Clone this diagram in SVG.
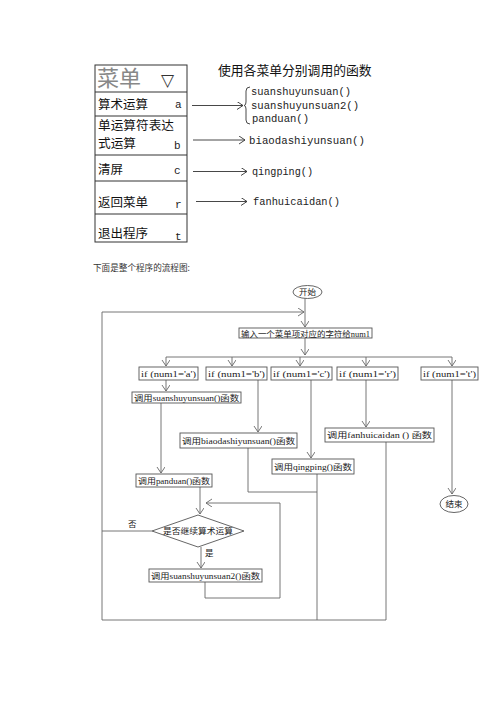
<svg xmlns="http://www.w3.org/2000/svg" width="500" height="707" viewBox="0 0 500 707">
<style>
.bg{fill:#fff}
.menu{fill:none;stroke:#333;stroke-width:1}
.sep{stroke:#333;stroke-width:1}
.mt{font-family:"Noto Sans CJK SC","Liberation Sans",sans-serif;font-size:12.5px;fill:#111}
.ml{font-family:"Liberation Mono",monospace;font-size:11px;fill:#222}
.fn{font-family:"Liberation Mono","Noto Sans CJK SC",monospace;font-size:10.8px;fill:#222}
.arr{fill:none;stroke:#333;stroke-width:0.9}
.box{fill:#fff;stroke:#555;stroke-width:0.9}
.ft{font-family:"Liberation Serif","Noto Sans CJK SC",serif;font-size:8.5px;fill:#222}
.ln{fill:none;stroke:#666;stroke-width:0.9}
</style>
<defs>
<marker id="ah" markerUnits="userSpaceOnUse" markerWidth="10" markerHeight="10" refX="6" refY="4" orient="auto">
<path d="M0,0 L6,4 L0,8" fill="none" stroke="#333" stroke-width="0.9"/>
</marker>
<marker id="fh" markerUnits="userSpaceOnUse" markerWidth="10" markerHeight="10" refX="6" refY="4" orient="auto">
<path d="M0,0 L6,4 L0,8" fill="none" stroke="#666" stroke-width="0.9"/>
</marker>
</defs>
<rect class="bg" x="0" y="0" width="500" height="707"/>

<g id="menu">
<rect class="menu" x="95" y="65" width="92" height="177"/>
<line class="sep" x1="95" y1="92" x2="187" y2="92"/>
<line class="sep" x1="95" y1="116" x2="187" y2="116"/>
<line class="sep" x1="95" y1="155" x2="187" y2="155"/>
<line class="sep" x1="95" y1="181" x2="187" y2="181"/>
<line class="sep" x1="95" y1="214" x2="187" y2="214" stroke-width="1.5"/>
<text x="97" y="86" font-family="Noto Sans CJK SC,sans-serif" font-size="22" fill="#888">菜单</text>
<text x="161" y="86" font-family="DejaVu Sans,sans-serif" font-size="17" fill="#333">▽</text>
<text class="mt" x="98" y="109">算术运算</text>
<text class="ml" x="175" y="108">a</text>
<text class="mt" x="98" y="130" font-size="11.5" textLength="76" lengthAdjust="spacingAndGlyphs">单运算符表达</text>
<text class="mt" x="98" y="148" font-size="11.5" textLength="38" lengthAdjust="spacingAndGlyphs">式运算</text>
<text class="ml" x="174" y="149">b</text>
<text class="mt" x="98" y="174">清屏</text>
<text class="ml" x="174" y="174">c</text>
<text class="mt" x="98" y="207">返回菜单</text>
<text class="ml" x="175" y="208">r</text>
<text class="mt" x="98" y="238">退出程序</text>
<text class="ml" x="175" y="240">t</text>
</g>

<g id="title"><text x="218" y="75" font-family="Noto Sans CJK SC,sans-serif" font-size="12.8" fill="#111">使用各菜单分别调用的函数</text></g>

<g id="menu-connectors">
<line class="arr" x1="192" y1="105.5" x2="243" y2="105.5" marker-end="url(#ah)"/>
<line class="arr" x1="193" y1="140" x2="245" y2="140" marker-end="url(#ah)"/>
<line class="arr" x1="193" y1="171.5" x2="247" y2="171.5" marker-end="url(#ah)"/>
<line class="arr" x1="196" y1="201.5" x2="247" y2="201.5" marker-end="url(#ah)"/>
<path class="arr" d="M250,87 Q246,87 246,91 L246,102 Q246,105.5 244,105.5 Q246,105.5 246,109 L246,120 Q246,124 250,124"/>
</g>

<g id="functions">
<text class="fn" x="251" y="95" textLength="100" lengthAdjust="spacingAndGlyphs">suanshuyunsuan()</text>
<text class="fn" x="251" y="109" textLength="108" lengthAdjust="spacingAndGlyphs">suanshuyunsuan2()</text>
<text class="fn" x="252" y="122" textLength="57" lengthAdjust="spacingAndGlyphs">panduan()</text>
<text class="fn" x="249" y="144" textLength="116" lengthAdjust="spacingAndGlyphs">biaodashiyunsuan()</text>
<text class="fn" x="252" y="175" textLength="61" lengthAdjust="spacingAndGlyphs">qingping()</text>
<text class="fn" x="253" y="205" textLength="87" lengthAdjust="spacingAndGlyphs">fanhuicaidan()</text>
</g>

<g id="caption"><text x="93" y="271" font-family="Noto Sans CJK SC,serif" font-size="8.6" fill="#333">下面是整个程序的流程图:</text></g>

<g id="connectors">
<line class="ln" x1="305" y1="298" x2="305" y2="327" marker-end="url(#fh)"/>
<path class="ln" d="M386,442 V620 H102 V312 H304" marker-end="url(#fh)"/>
<path class="ln" d="M317,474 V620"/>
<path class="ln" d="M248,448 V492 H317"/>
<line class="ln" x1="305" y1="338" x2="305" y2="355" marker-end="url(#fh)"/>
<line class="ln" x1="166" y1="357" x2="452" y2="357"/>
<line class="ln" x1="166" y1="357" x2="166" y2="366" marker-end="url(#fh)"/>
<line class="ln" x1="232" y1="357" x2="232" y2="366" marker-end="url(#fh)"/>
<line class="ln" x1="300" y1="357" x2="300" y2="366" marker-end="url(#fh)"/>
<line class="ln" x1="366" y1="357" x2="366" y2="366" marker-end="url(#fh)"/>
<line class="ln" x1="452" y1="357" x2="452" y2="366" marker-end="url(#fh)"/>
<line class="ln" x1="166" y1="380" x2="166" y2="391" marker-end="url(#fh)"/>
<line class="ln" x1="161" y1="403" x2="161" y2="473" marker-end="url(#fh)"/>
<line class="ln" x1="258" y1="380" x2="258" y2="432" marker-end="url(#fh)"/>
<line class="ln" x1="311" y1="380" x2="311" y2="458" marker-end="url(#fh)"/>
<line class="ln" x1="366" y1="380" x2="366" y2="427" marker-end="url(#fh)"/>
<line class="ln" x1="452" y1="380" x2="452" y2="494" marker-end="url(#fh)"/>
<line class="ln" x1="200" y1="487" x2="200" y2="514" marker-end="url(#fh)"/>
<line class="ln" x1="201" y1="547" x2="201" y2="568" marker-end="url(#fh)"/>
<path class="ln" d="M205,582 V598 H280 V503 H206" marker-end="url(#fh)"/>
<line class="ln" x1="152" y1="531" x2="102" y2="531"/>
<text class="ft" x="128" y="527" font-family="Noto Sans CJK SC,sans-serif">否</text>
<text class="ft" x="205" y="556" font-family="Noto Sans CJK SC,sans-serif">是</text>
</g>

<g id="start"><ellipse class="box" cx="307.5" cy="292" rx="14.5" ry="6.5"/><text class="ft" x="307.5" y="295" text-anchor="middle" font-family="Noto Sans CJK SC,sans-serif">开始</text></g>
<g id="input"><rect class="box" x="239" y="328" width="133" height="10"/><text class="ft" x="241" y="336.5" textLength="129" lengthAdjust="spacingAndGlyphs">输入一个菜单项对应的字符给num1</text></g>
<g id="if-a"><rect class="box" x="139" y="367" width="59" height="13"/><text class="ft" x="141" y="376.5" textLength="55" lengthAdjust="spacingAndGlyphs">if (num1='a')</text></g>
<g id="if-b"><rect class="box" x="206" y="367" width="61" height="13"/><text class="ft" x="208" y="376.5" textLength="57" lengthAdjust="spacingAndGlyphs">if (num1='b')</text></g>
<g id="if-c"><rect class="box" x="271" y="367" width="61" height="13"/><text class="ft" x="273" y="376.5" textLength="57" lengthAdjust="spacingAndGlyphs">if (num1='c')</text></g>
<g id="if-r"><rect class="box" x="337" y="367" width="61" height="13"/><text class="ft" x="339" y="376.5" textLength="57" lengthAdjust="spacingAndGlyphs">if (num1='r')</text></g>
<g id="if-t"><rect class="box" x="421" y="367" width="57" height="13"/><text class="ft" x="423" y="376.5" textLength="53" lengthAdjust="spacingAndGlyphs">if (num1='t')</text></g>
<g id="call-suan"><rect class="box" x="132" y="392" width="109" height="11"/><text class="ft" x="134" y="400.5" textLength="105" lengthAdjust="spacingAndGlyphs">调用suanshuyunsuan()函数</text></g>
<g id="call-biao"><rect class="box" x="180" y="433" width="117" height="15"/><text class="ft" x="182" y="443.5" textLength="113" lengthAdjust="spacingAndGlyphs">调用biaodashiyunsuan()函数</text></g>
<g id="call-qing"><rect class="box" x="272" y="459" width="82" height="15"/><text class="ft" x="274" y="469.5" textLength="78" lengthAdjust="spacingAndGlyphs">调用qingping()函数</text></g>
<g id="call-fanhui"><rect class="box" x="325" y="428" width="109" height="14"/><text class="ft" x="327" y="438" textLength="105" lengthAdjust="spacingAndGlyphs">调用fanhuicaidan () 函数</text></g>
<g id="call-panduan"><rect class="box" x="136" y="474" width="76" height="13"/><text class="ft" x="138" y="483.5" textLength="72" lengthAdjust="spacingAndGlyphs">调用panduan()函数</text></g>
<g id="decision"><polygon class="box" points="152,531 198,515 244,531 198,547"/><text class="ft" x="198" y="534" text-anchor="middle" textLength="70" lengthAdjust="spacingAndGlyphs" font-family="Noto Sans CJK SC,sans-serif">是否继续算术运算</text></g>
<g id="call-suan2"><rect class="box" x="149" y="569" width="113" height="13"/><text class="ft" x="151" y="578.5" textLength="109" lengthAdjust="spacingAndGlyphs">调用suanshuyunsuan2()函数</text></g>
<g id="end"><ellipse class="box" cx="454" cy="504" rx="14" ry="8.5"/><text class="ft" x="454" y="507" text-anchor="middle" font-family="Noto Sans CJK SC,sans-serif">结束</text></g>
</svg>
